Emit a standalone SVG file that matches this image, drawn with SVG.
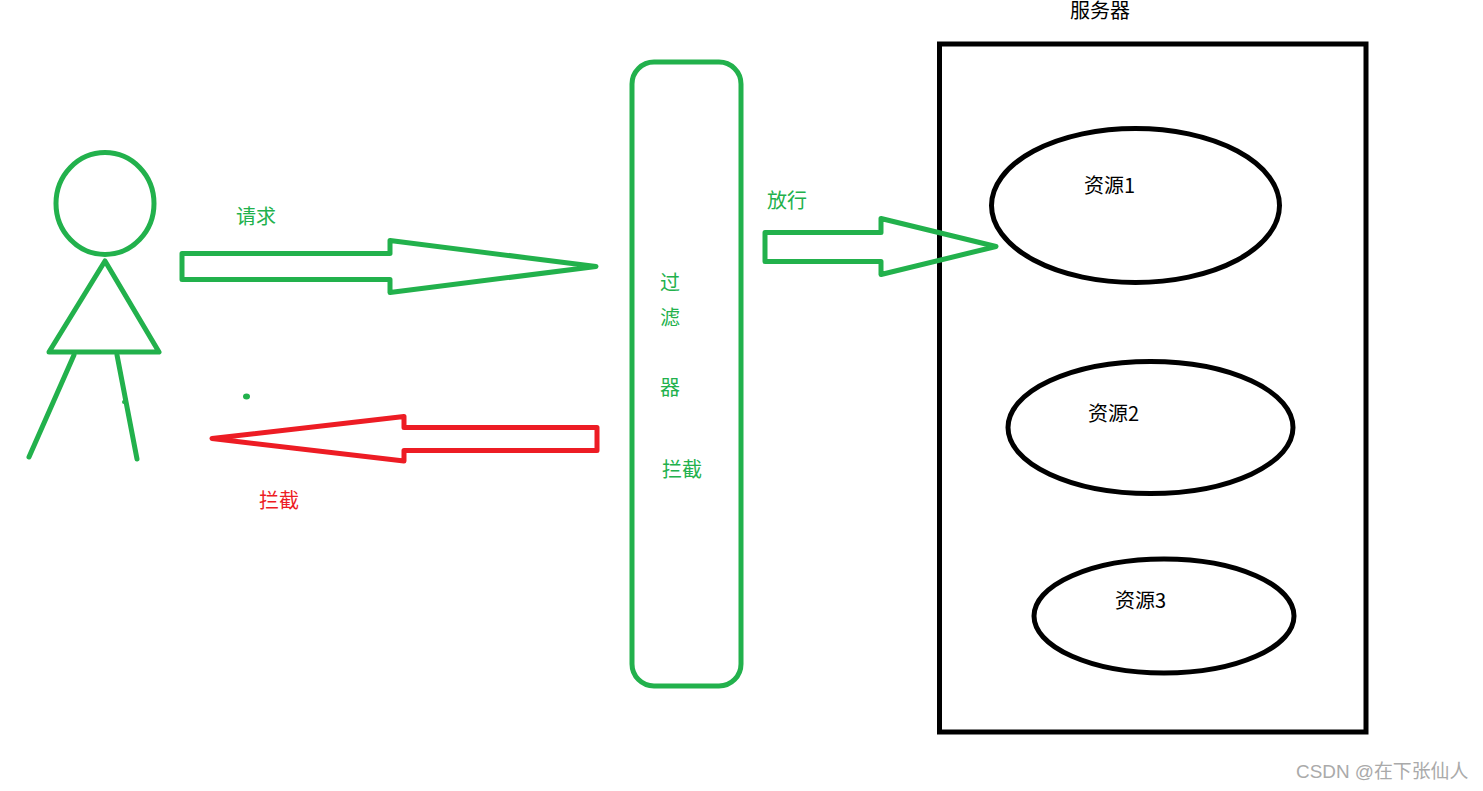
<svg xmlns="http://www.w3.org/2000/svg" width="1483" height="791" viewBox="0 0 1483 791">
<style>
text{font-family:"Noto Sans CJK SC","Liberation Sans",sans-serif;font-size:20px}
.g{fill:none;stroke:#22b14c;stroke-width:5;stroke-linejoin:round;stroke-linecap:round}
.r{fill:none;stroke:#ed1c24;stroke-width:5;stroke-linejoin:round;stroke-linecap:round}
.k{fill:none;stroke:#000;stroke-width:5}
.tg{fill:#22b14c}.tr{fill:#ed1c24}.tk{fill:#000}
.wm{font-family:"Liberation Sans","Noto Sans CJK SC",sans-serif;font-size:18.900px;fill:#aaa}
</style>
<rect width="1483" height="791" fill="#fff"/>
<g id="person">
<ellipse class="g" cx="105" cy="203.500" rx="49" ry="51"/>
<path class="g" d="M105 261L159 352H49Z"/>
<path class="g" d="M74 355L29 457M117 355L137 459"/>
<circle cx="124" cy="402" r="2" fill="#22b14c"/>
<ellipse cx="246.500" cy="396.500" rx="3.500" ry="3" fill="#22b14c"/>
</g>
<g id="filter">
<rect class="g" x="632" y="62" width="109" height="624" rx="22" ry="22"/>
<text class="tg" x="660" y="290">过</text>
<text class="tg" x="660" y="325">滤</text>
<text class="tg" x="660" y="395">器</text>
<text class="tg" x="662" y="477">拦截</text>
</g>
<g id="server">
<rect x="939.500" y="44" width="426.500" height="688" fill="none" stroke="#000" stroke-width="5"/>
<text class="tk" x="1070" y="18">服务器</text>
</g>
<g id="res1">
<ellipse class="k" cx="1135.500" cy="205.500" rx="144" ry="77"/>
<text class="tk" x="1084" y="193">资源1</text>
</g>
<g id="res2">
<ellipse class="k" cx="1150.500" cy="427.500" rx="142.500" ry="66"/>
<text class="tk" x="1088" y="421">资源2</text>
</g>
<g id="res3">
<ellipse class="k" cx="1164" cy="616" rx="130" ry="57"/>
<text class="tk" x="1115" y="608">资源3</text>
</g>
<g id="connectors">
<path class="g" d="M182 253.500H390V240.500L596 266.500L390 292.500V279.500H182Z"/>
<path class="g" d="M765 232.500H881V218.500L996 246.500L881 274.500V261.500H765Z"/>
<path class="r" d="M597 427.500H404V416.500L212 438.500L404 461V450.500H597Z"/>
</g>
<g id="labels">
<text class="tg" x="236" y="224">请求</text>
<text class="tg" x="767" y="208">放行</text>
<text class="tr" x="259" y="508">拦截</text>
<text class="wm" x="1296" y="778">CSDN @在下张仙人</text>
</g>
</svg>
